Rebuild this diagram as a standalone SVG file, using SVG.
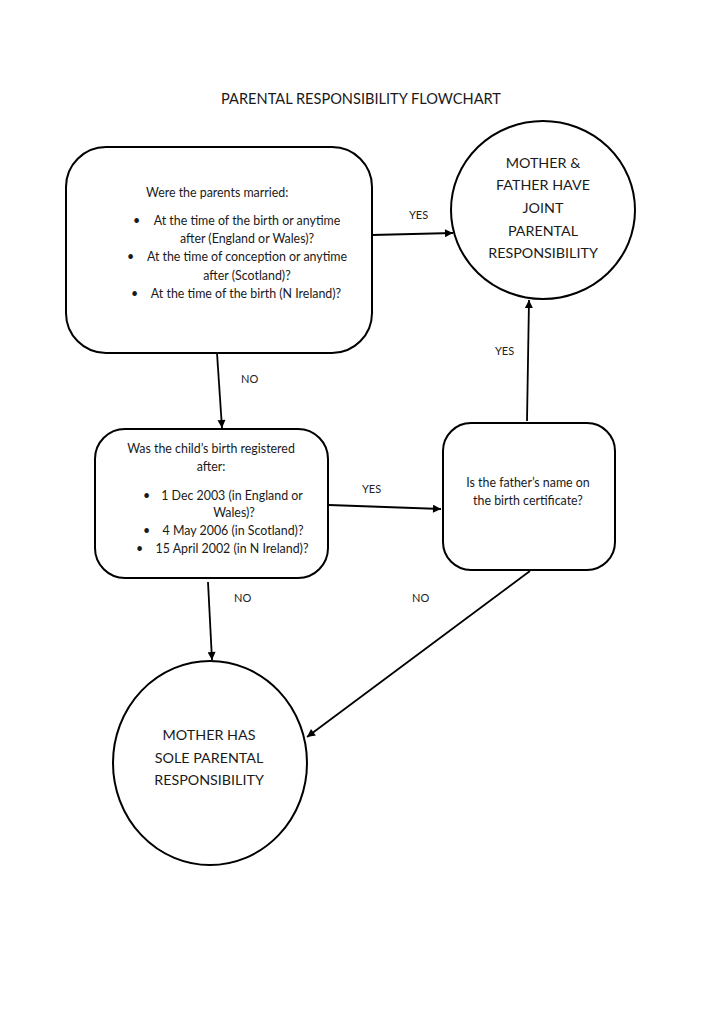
<svg xmlns="http://www.w3.org/2000/svg" width="724" height="1024" viewBox="0 0 724 1024">
<defs>
<style>
.shape{fill:#fff;stroke:#000;stroke-width:2}
.t{font-family:Lato,"Liberation Sans",sans-serif;fill:#1a1a1a}
.s{font-size:12.4px}
.big{font-size:14.3px;text-anchor:middle}
.lbl{font-size:11px;fill:#222}
.c{text-anchor:middle}
.conn{stroke:#000;stroke-width:1.8;fill:none;marker-end:url(#ah)}
</style>
<marker id="ah" viewBox="0 0 10 10" refX="10" refY="5" markerWidth="9" markerHeight="8" markerUnits="userSpaceOnUse" orient="auto">
<path d="M0,0 L10,5 L0,10 z" fill="#000"/>
</marker>
</defs>
<rect width="724" height="1024" fill="#fff"/>
<text class="t" x="361" y="104" font-size="14.6" text-anchor="middle">PARENTAL RESPONSIBILITY FLOWCHART</text>

<g id="connectors">
<line class="conn" x1="372" y1="235" x2="453" y2="233"/>
<line class="conn" x1="217" y1="353" x2="222" y2="428"/>
<line class="conn" x1="329" y1="505" x2="441" y2="509"/>
<line class="conn" x1="527" y1="421" x2="529" y2="300"/>
<line class="conn" x1="208" y1="582" x2="212" y2="660"/>
<line class="conn" x1="530" y1="571" x2="307" y2="737"/>
<text class="t lbl" x="409" y="219">YES</text>
<text class="t lbl" x="241" y="383">NO</text>
<text class="t lbl" x="362" y="493">YES</text>
<text class="t lbl" x="495" y="355">YES</text>
<text class="t lbl" x="234" y="602">NO</text>
<text class="t lbl" x="412" y="602">NO</text>
</g>

<g id="q-married">
<rect class="shape" x="66" y="147" width="306" height="206" rx="40" ry="40"/>
<text class="t s" x="146" y="197">Were the parents married:</text>
<text class="t s" x="133" y="225">•</text>
<text class="t s c" x="247" y="225">At the time of the birth or anytime</text>
<text class="t s c" x="247" y="243">after (England or Wales)?</text>
<text class="t s" x="127" y="261">•</text>
<text class="t s c" x="247" y="261">At the time of conception or anytime</text>
<text class="t s c" x="247" y="280">after (Scotland)?</text>
<text class="t s" x="131" y="298">•</text>
<text class="t s c" x="246" y="298">At the time of the birth (N Ireland)?</text>
</g>

<g id="joint">
<ellipse class="shape" cx="543" cy="210" rx="92" ry="89"/>
<text class="t big" x="543" y="168">MOTHER &amp;</text>
<text class="t big" x="543" y="190">FATHER HAVE</text>
<text class="t big" x="543" y="213">JOINT</text>
<text class="t big" x="543" y="236">PARENTAL</text>
<text class="t big" x="543" y="258">RESPONSIBILITY</text>
</g>

<g id="q-registered">
<rect class="shape" x="95" y="429" width="233" height="149" rx="30" ry="30"/>
<text class="t s c" x="211" y="453">Was the child’s birth registered</text>
<text class="t s c" x="211" y="471">after:</text>
<text class="t s" x="143" y="500">•</text>
<text class="t s c" x="232" y="500">1 Dec 2003 (in England or</text>
<text class="t s c" x="234" y="517">Wales)?</text>
<text class="t s" x="143" y="535">•</text>
<text class="t s c" x="233" y="535">4 May 2006 (in Scotland)?</text>
<text class="t s" x="136" y="553">•</text>
<text class="t s c" x="232" y="553">15 April 2002 (in N Ireland)?</text>
</g>

<g id="q-father">
<rect class="shape" x="443" y="423" width="172" height="147" rx="28" ry="28"/>
<text class="t s c" x="528" y="487">Is the father’s name on</text>
<text class="t s c" x="528" y="505">the birth certificate?</text>
</g>

<g id="sole">
<ellipse class="shape" cx="210" cy="763" rx="97" ry="102"/>
<text class="t big" x="209" y="740">MOTHER HAS</text>
<text class="t big" x="209" y="763">SOLE PARENTAL</text>
<text class="t big" x="209" y="785">RESPONSIBILITY</text>
</g>
</svg>
